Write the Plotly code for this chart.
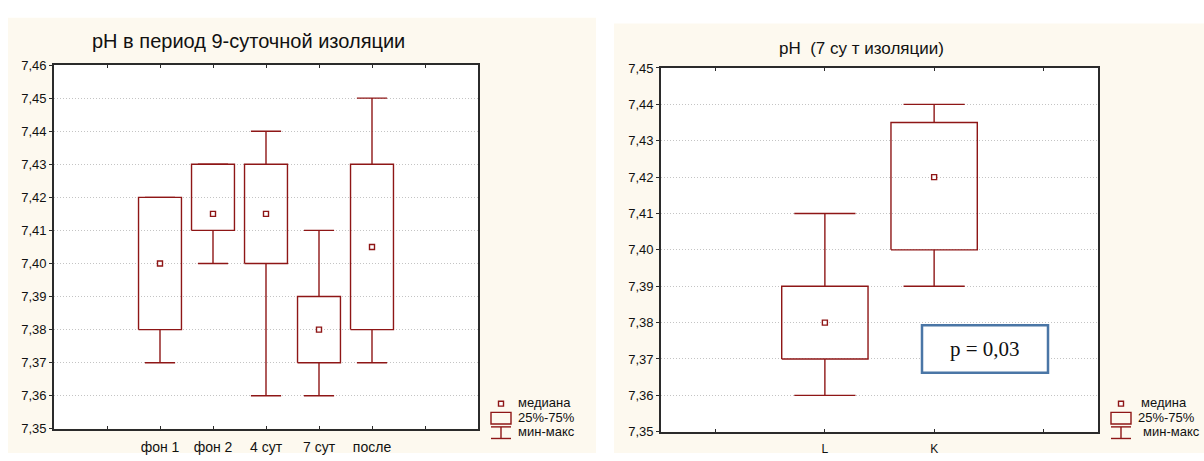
import plotly.graph_objects as go

# ---------------- data ----------------
categories_left = ["фон 1", "фон 2", "4 сут", "7 сут", "после"]
min_left = [7.37, 7.40, 7.36, 7.36, 7.37]
q1_left = [7.38, 7.41, 7.40, 7.37, 7.38]
median_left = [7.40, 7.415, 7.415, 7.38, 7.405]
q3_left = [7.42, 7.43, 7.43, 7.39, 7.43]
max_left = [7.42, 7.43, 7.44, 7.41, 7.45]

categories_right = ["L", "K"]
min_right = [7.36, 7.39]
q1_right = [7.37, 7.40]
median_right = [7.38, 7.42]
q3_right = [7.39, 7.435]
max_right = [7.41, 7.44]

yticks_left = [7.35, 7.36, 7.37, 7.38, 7.39, 7.40, 7.41, 7.42, 7.43, 7.44, 7.45, 7.46]
yticks_right = [7.35, 7.36, 7.37, 7.38, 7.39, 7.40, 7.41, 7.42, 7.43, 7.44, 7.45]

title_left = "pH в период 9-суточной изоляции"
title_right = "pH\u00a0\u00a0(7 су\u00a0т изоляции)"
legend_left = ["медиана", "25%-75%", "мин-макс"]
legend_right = ["медина", "25%-75%", "мин-макс"]
p_text = "p = 0,03"

# ---------------- style ----------------
W, H = 1204, 461
RED = "#8E1616"
CREAM = "#FDF9EF"
GRID = "#C4C4C4"
AXC = "#2B2B2B"
FONT = "Liberation Sans, Arial"


def px(x):
    return x / W


def py(y):
    return 1 - y / H


def box_paths(pos, mn, q1, med, q3, mx, bw, cw):
    bx, by, wx, wy = [], [], [], []
    for p, a, b, c, d in zip(pos, mn, q1, q3, mx):
        bx += [p - bw / 2, p + bw / 2, p + bw / 2, p - bw / 2, p - bw / 2, None]
        by += [b, b, c, c, b, None]
        wx += [p, p, None, p - cw / 2, p + cw / 2, None,
               p, p, None, p - cw / 2, p + cw / 2, None]
        wy += [c, d, None, d, d, None, b, a, None, a, a, None]
    return bx, by, wx, wy


fig = go.Figure()

# panels + white plot areas
shapes = [
    dict(type="rect", xref="paper", yref="paper", x0=px(8), x1=px(596), y0=py(461), y1=py(11),
         fillcolor=CREAM, line=dict(width=0), layer="below"),
    dict(type="rect", xref="paper", yref="paper", x0=px(614), x1=px(1204), y0=py(461), y1=py(17),
         fillcolor=CREAM, line=dict(width=0), layer="below"),
    dict(type="rect", xref="x domain", yref="y domain", x0=0, x1=1, y0=0, y1=1,
         fillcolor="white", line=dict(width=0), layer="below"),
    dict(type="rect", xref="x2 domain", yref="y2 domain", x0=0, x1=1, y0=0, y1=1,
         fillcolor="white", line=dict(width=0), layer="below"),
]


def add_boxes(cats, mn, q1, med, q3, mx, xa, ya, bw, cw):
    pos = list(range(len(cats)))
    bx, by, wx, wy = box_paths(pos, mn, q1, med, q3, mx, bw, cw)
    fig.add_trace(go.Scatter(x=wx, y=wy, mode="lines", line=dict(color=RED, width=1.4),
                             xaxis=xa, yaxis=ya, showlegend=False, hoverinfo="skip"))
    fig.add_trace(go.Scatter(x=bx, y=by, mode="lines", line=dict(color=RED, width=1.4),
                             xaxis=xa, yaxis=ya, showlegend=False, hoverinfo="skip"))
    fig.add_trace(go.Scatter(x=pos, y=med, mode="markers",
                             marker=dict(symbol="square", size=5, color="white",
                                         line=dict(color=RED, width=1.4)),
                             xaxis=xa, yaxis=ya, showlegend=False))


add_boxes(categories_left, min_left, q1_left, median_left, q3_left, max_left, "x", "y", 0.81, 0.57)
add_boxes(categories_right, min_right, q1_right, median_right, q3_right, max_right, "x2", "y2", 0.79, 0.56)

axis_common = dict(showline=True, linecolor=AXC, linewidth=1.6, zeroline=False,
                   tickfont=dict(family=FONT, size=13, color="#111"))
grid_common = dict(showgrid=True, gridcolor=GRID, griddash="1px,2px", gridwidth=1)

fig.update_layout(
    width=W, height=H, autosize=False,
    margin=dict(l=0, r=0, t=0, b=0),
    paper_bgcolor="white", plot_bgcolor="rgba(0,0,0,0)",
    xaxis=dict(domain=[px(54), px(478)], range=[-2, 6], anchor="y",
               tickvals=list(range(-1, 6)),
               ticktext=[""] + categories_left + [""],
               ticks="inside", ticklen=3, tickcolor=AXC, mirror="ticks",
               showgrid=False, ticklabelstandoff=5,
               showline=True, linecolor=AXC, linewidth=1.6, zeroline=False,
               tickfont=dict(family=FONT, size=14, color="#111")),
    yaxis=dict(domain=[py(436), py(60)], range=[7.35, 7.46], anchor="x",
               tickvals=yticks_left, ticktext=[f"{v:.2f}".replace(".", ",") for v in yticks_left],
               ticks="outside", ticklen=3, tickcolor=AXC, mirror=True,
               **grid_common, **axis_common),
    xaxis2=dict(domain=[px(661), px(1098)], range=[-1.5, 2.5], anchor="y2",
                tickvals=[-1, 0, 1, 2], ticktext=[""] + categories_right + [""],
                ticks="inside", ticklen=3, tickcolor=AXC, mirror="ticks",
                showgrid=False, ticklabelstandoff=5,
                showline=True, linecolor=AXC, linewidth=1.6, zeroline=False,
                tickfont=dict(family=FONT, size=12, color="#111")),
    yaxis2=dict(domain=[py(439), py(63)], range=[7.35, 7.45], anchor="x2",
                tickvals=yticks_right, ticktext=[f"{v:.2f}".replace(".", ",") for v in yticks_right],
                ticks="outside", ticklen=3, tickcolor=AXC, mirror=True,
                **grid_common, **axis_common),
)

annotations = [
    dict(text=title_left, x=px(248), y=py(35), xref="paper", yref="paper", showarrow=False,
         xanchor="center", yanchor="middle",
         font=dict(family=FONT, size=20, color="#111")),
    dict(text=title_right, x=px(861), y=py(43), xref="paper", yref="paper", showarrow=False,
         xanchor="center", yanchor="middle",
         font=dict(family=FONT, size=17, color="#111")),
    dict(text=p_text, x=px(985), y=py(353), xref="paper", yref="paper", showarrow=False,
         xanchor="center", yanchor="middle",
         font=dict(family="Liberation Serif, Times New Roman", size=21, color="#111")),
]

# p-value box
shapes.append(dict(type="rect", xref="paper", yref="paper", x0=px(922), x1=px(1048),
                   y0=py(378), y1=py(329), fillcolor="white",
                   line=dict(color="#4A76A6", width=2.5), layer="above"))


# legends (glyphs + text)
def add_legend(xc, labels, text_x):
    half = 10
    shapes.append(dict(type="rect", xref="paper", yref="paper",
                       x0=px(xc - 2.5), x1=px(xc + 2.5), y0=py(412.5), y1=py(407.5),
                       fillcolor="white", line=dict(color=RED, width=1.4)))
    shapes.append(dict(type="rect", xref="paper", yref="paper",
                       x0=px(xc - half), x1=px(xc + half), y0=py(431), y1=py(419),
                       fillcolor="rgba(0,0,0,0)", line=dict(color=RED, width=1.4)))
    for (x0, y0, x1, y1) in [(xc - half, 434, xc + half, 434), (xc, 434, xc, 446),
                             (xc - half, 446, xc + half, 446)]:
        shapes.append(dict(type="line", xref="paper", yref="paper",
                           x0=px(x0), x1=px(x1), y0=py(y0), y1=py(y1),
                           line=dict(color=RED, width=1.4)))
    for lab, ty, tx in zip(labels, [409, 424, 439], text_x):
        annotations.append(dict(text=lab, x=px(tx), y=py(ty), xref="paper", yref="paper",
                                showarrow=False, xanchor="left", yanchor="middle",
                                font=dict(family=FONT, size=13, color="#111")))


add_legend(501, legend_left, [516, 516, 516])
add_legend(1121, legend_right, [1139, 1136, 1141])

fig.update_layout(shapes=shapes, annotations=annotations)

fig.write_html("out.html", config={"displayModeBar": False},
               post_script="document.body.style.margin='0px';document.body.style.overflow='hidden';")
